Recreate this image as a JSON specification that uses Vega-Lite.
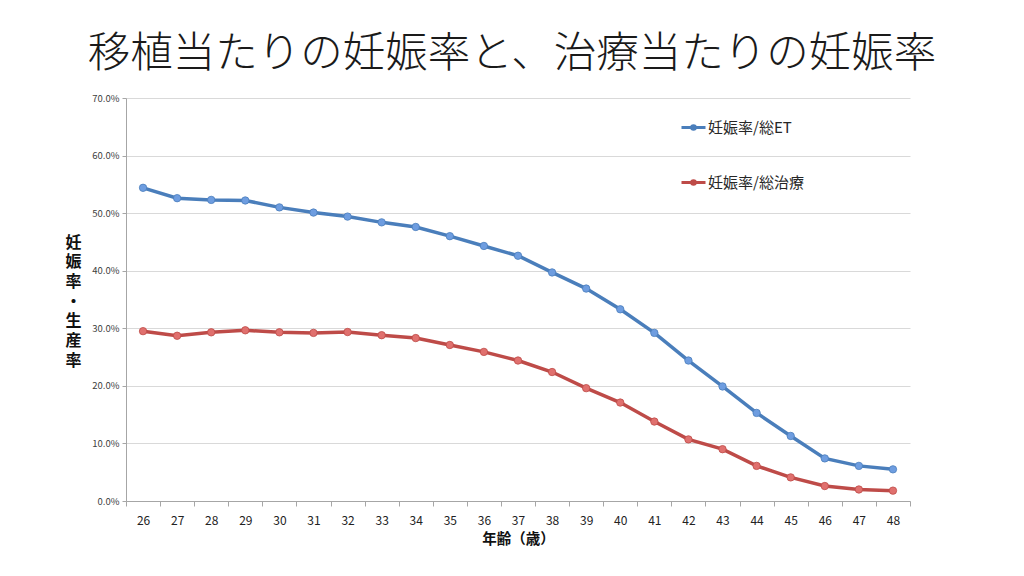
{
  "$schema": "https://vega.github.io/schema/vega-lite/v6.json",
  "autosize": {"type": "none"},
  "width": 784,
  "height": 403,
  "padding": {"left": 126, "top": 98, "right": 114, "bottom": 75},
  "background": "white",
  "title": {
    "text": "移植当たりの妊娠率と、治療当たりの妊娠率",
    "font": "Noto Sans CJK JP",
    "fontSize": 42.5,
    "fontWeight": 300,
    "color": "#1a1a1a",
    "anchor": "middle",
    "dx": -6,
    "offset": 18
  },
  "config": {
    "font": "Noto Sans CJK JP",
    "view": {"stroke": null}
  },
  "data": {
    "values": [
      {"age": 26, "series": "妊娠率/総ET", "rate": 0.544},
      {"age": 27, "series": "妊娠率/総ET", "rate": 0.526},
      {"age": 28, "series": "妊娠率/総ET", "rate": 0.523},
      {"age": 29, "series": "妊娠率/総ET", "rate": 0.522},
      {"age": 30, "series": "妊娠率/総ET", "rate": 0.510},
      {"age": 31, "series": "妊娠率/総ET", "rate": 0.501},
      {"age": 32, "series": "妊娠率/総ET", "rate": 0.494},
      {"age": 33, "series": "妊娠率/総ET", "rate": 0.484},
      {"age": 34, "series": "妊娠率/総ET", "rate": 0.476},
      {"age": 35, "series": "妊娠率/総ET", "rate": 0.460},
      {"age": 36, "series": "妊娠率/総ET", "rate": 0.443},
      {"age": 37, "series": "妊娠率/総ET", "rate": 0.426},
      {"age": 38, "series": "妊娠率/総ET", "rate": 0.397},
      {"age": 39, "series": "妊娠率/総ET", "rate": 0.369},
      {"age": 40, "series": "妊娠率/総ET", "rate": 0.333},
      {"age": 41, "series": "妊娠率/総ET", "rate": 0.292},
      {"age": 42, "series": "妊娠率/総ET", "rate": 0.244},
      {"age": 43, "series": "妊娠率/総ET", "rate": 0.199},
      {"age": 44, "series": "妊娠率/総ET", "rate": 0.153},
      {"age": 45, "series": "妊娠率/総ET", "rate": 0.113},
      {"age": 46, "series": "妊娠率/総ET", "rate": 0.074},
      {"age": 47, "series": "妊娠率/総ET", "rate": 0.061},
      {"age": 48, "series": "妊娠率/総ET", "rate": 0.055},
      {"age": 26, "series": "妊娠率/総治療", "rate": 0.295},
      {"age": 27, "series": "妊娠率/総治療", "rate": 0.287},
      {"age": 28, "series": "妊娠率/総治療", "rate": 0.293},
      {"age": 29, "series": "妊娠率/総治療", "rate": 0.2965},
      {"age": 30, "series": "妊娠率/総治療", "rate": 0.293},
      {"age": 31, "series": "妊娠率/総治療", "rate": 0.292},
      {"age": 32, "series": "妊娠率/総治療", "rate": 0.2935},
      {"age": 33, "series": "妊娠率/総治療", "rate": 0.288},
      {"age": 34, "series": "妊娠率/総治療", "rate": 0.283},
      {"age": 35, "series": "妊娠率/総治療", "rate": 0.271},
      {"age": 36, "series": "妊娠率/総治療", "rate": 0.259},
      {"age": 37, "series": "妊娠率/総治療", "rate": 0.244},
      {"age": 38, "series": "妊娠率/総治療", "rate": 0.224},
      {"age": 39, "series": "妊娠率/総治療", "rate": 0.196},
      {"age": 40, "series": "妊娠率/総治療", "rate": 0.171},
      {"age": 41, "series": "妊娠率/総治療", "rate": 0.138},
      {"age": 42, "series": "妊娠率/総治療", "rate": 0.107},
      {"age": 43, "series": "妊娠率/総治療", "rate": 0.090},
      {"age": 44, "series": "妊娠率/総治療", "rate": 0.061},
      {"age": 45, "series": "妊娠率/総治療", "rate": 0.041},
      {"age": 46, "series": "妊娠率/総治療", "rate": 0.026},
      {"age": 47, "series": "妊娠率/総治療", "rate": 0.020},
      {"age": 48, "series": "妊娠率/総治療", "rate": 0.018}
    ]
  },
  "encoding": {
    "x": {
      "field": "age",
      "type": "ordinal",
      "scale": {"type": "band", "paddingInner": 0, "paddingOuter": 0},
      "axis": {
        "title": "年齢（歳）",
        "titleFontSize": 14.5,
        "titleFontWeight": "bold",
        "titleColor": "#111111",
        "titlePadding": 6,
        "labelAngle": 0,
        "labelFontSize": 12,
        "labelColor": "#222222",
        "labelPadding": 9,
        "tickBand": "extent",
        "tickSize": 5,
        "tickColor": "#a6a6a6",
        "domainColor": "#a6a6a6",
        "grid": false
      }
    },
    "y": {
      "field": "rate",
      "type": "quantitative",
      "scale": {"domain": [0, 0.7], "nice": false},
      "axis": {
        "title": ["妊", "娠", "率", "・", "生", "産", "率"],
        "titleAngle": 0,
        "titleFontSize": 16,
        "titleFontWeight": "bold",
        "titleColor": "#111111",
        "titleLineHeight": 19.7,
        "titleAlign": "center",
        "titleBaseline": "middle",
        "titleX": -53,
        "titleY": 144,
        "values": [0, 0.1, 0.2, 0.3, 0.4, 0.5, 0.6, 0.7],
        "format": ".1%",
        "labelFontSize": 9.5,
        "labelColor": "#404040",
        "labelPadding": 3,
        "tickSize": 4,
        "tickColor": "#a6a6a6",
        "domainColor": "#a6a6a6",
        "gridColor": "#d9d9d9",
        "gridWidth": 1
      }
    }
  },
  "layer": [
    {
      "mark": {"type": "line", "strokeWidth": 3.5},
      "encoding": {
        "color": {
          "field": "series",
          "type": "nominal",
          "scale": {
            "domain": ["妊娠率/総ET", "妊娠率/総治療"],
            "range": ["#4a7ebb", "#be4b48"]
          },
          "legend": {
            "title": null,
            "orient": "none",
            "legendX": 554,
            "legendY": 16,
            "rowPadding": 33,
            "labelFontSize": 15,
            "labelColor": "#262626",
            "labelOffset": 1,
            "symbolSize": 576,
            "symbolStrokeWidth": 2.8,
            "symbolType": "M-1,0 L1,0 M-0.16,0 A0.16,0.16 0 1,1 0.16,0 A0.16,0.16 0 1,1 -0.16,0"
          }
        }
      }
    },
    {
      "mark": {"type": "point", "filled": true, "size": 55, "opacity": 1, "strokeWidth": 0.8},
      "encoding": {
        "fill": {
          "field": "series",
          "type": "nominal",
          "scale": {
            "domain": ["妊娠率/総ET", "妊娠率/総治療"],
            "range": ["#6e9de0", "#e0706e"]
          },
          "legend": null
        },
        "stroke": {
          "field": "series",
          "type": "nominal",
          "scale": {
            "domain": ["妊娠率/総ET", "妊娠率/総治療"],
            "range": ["#4a7ebb", "#be4b48"]
          },
          "legend": null
        }
      }
    }
  ]
}
